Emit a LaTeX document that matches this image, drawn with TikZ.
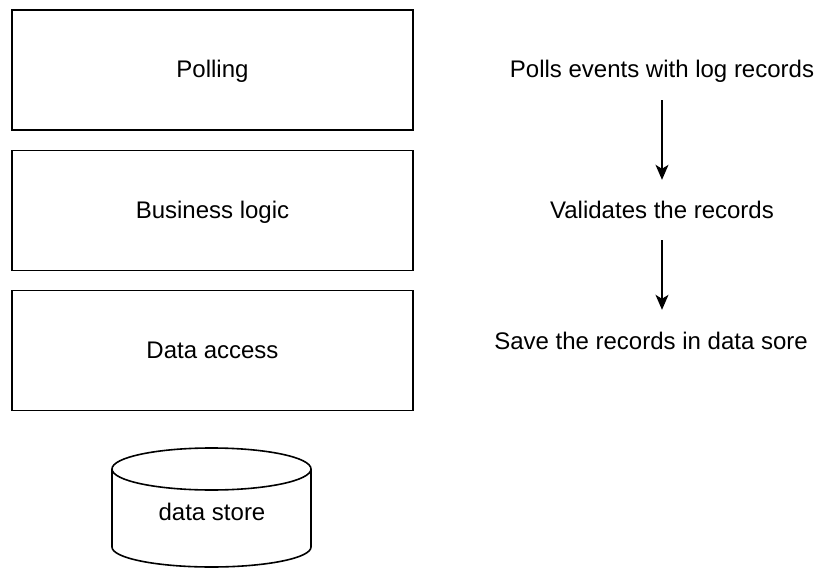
\documentclass[tikz,border=0pt]{standalone}
\usepackage{fontspec}
\setmainfont{Liberation Sans}
\usetikzlibrary{arrows.meta}
\begin{document}
\begin{tikzpicture}[x=1pt,y=-1pt,
  layer/.style={draw=black,line width=1.6pt,minimum width=401pt,minimum height=120pt,inner sep=0pt,text height=20.5pt,text depth=5pt,font=\fontsize{24}{28}\selectfont},
  steptext/.style={inner sep=0pt,text height=18pt,text depth=5pt,font=\fontsize{24}{28}\selectfont},
  flow/.style={line width=1.3pt,-{Stealth[length=15pt,width=13pt,inset=4pt]}}]
\useasboundingbox (0,0) rectangle (824,569);
\fill[white] (0,0) rectangle (824,569);
\node[layer] (poll) at (212.5,70) {Polling};
\node[layer] (biz) at (212.5,210.5) {Business logic};
\node[layer] (da) at (212.5,350.5) {Data access};
% cylinder
\draw[line width=1.6pt,fill=white] (112,469) -- (112,547) arc[start angle=180,end angle=0,x radius=99.5,y radius=20] -- (311,469);
\draw[line width=1.6pt] (211.5,469) ellipse[x radius=99.5,y radius=21];
\node[inner sep=0pt,font=\fontsize{24}{28}\selectfont] (ds) at (212,512) {data store};
% right flow
\node[steptext] (p1) at (662,71.5) {Polls events with log records};
\node[steptext] (p2) at (662,212.5) {Validates the records};
\node[steptext] (p3) at (651,342.5) {Save the records in data sore};
\draw[flow,shorten <=17pt,shorten >=21pt] (p1.south) -- (p1.south |- p2.north);
\draw[flow,shorten <=16pt,shorten >=21pt] (p2.south) -- (p2.south |- p3.north);
\end{tikzpicture}
\end{document}
